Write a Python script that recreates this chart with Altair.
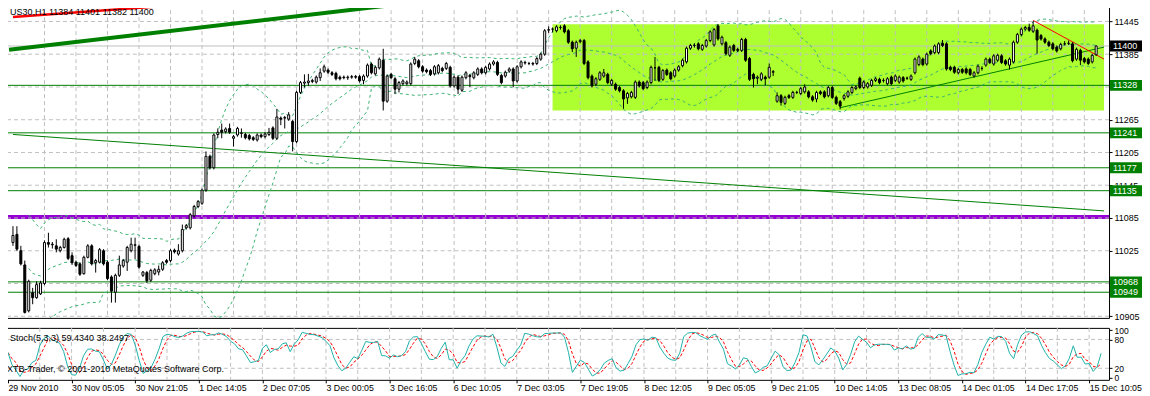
import json
import altair as alt
import pandas as pd

# ---------------- data (US30, H1) ----------------
OPEN = [
    11040, 11055, 11025, 10999, 10915, 10948, 10939, 10946, 10965, 11040,
    11037, 11034, 11025, 11031, 11047, 11016, 11004, 11001, 10983, 11013,
    11034, 11003, 11004, 11025, 11004, 10977, 10949, 10980, 10997, 11004,
    11025, 11035, 11033, 10980, 10985, 10971, 10983, 10986, 10991, 11007,
    11007, 11026, 11019, 11025, 11067, 11067, 11089, 11106, 11112, 11136,
    11198, 11177, 11238, 11246, 11243, 11249, 11231, 11237, 11240, 11238,
    11236, 11232, 11228, 11237, 11234, 11238, 11250, 11231, 11268, 11268,
    11266, 11262, 11225, 11315, 11332, 11333, 11335, 11334, 11342, 11354,
    11356, 11351, 11350, 11343, 11343, 11342, 11343, 11344, 11344, 11337,
    11345, 11367, 11349, 11360, 11374, 11299, 11348, 11340, 11321, 11331,
    11331, 11331, 11368, 11373, 11362, 11356, 11355, 11349, 11351, 11359,
    11359, 11361, 11327, 11343, 11319, 11342, 11346, 11342, 11348, 11358,
    11351, 11358, 11367, 11370, 11346, 11345, 11354, 11358, 11336, 11362,
    11369, 11368, 11368, 11368, 11376, 11385, 11429, 11431, 11428, 11434,
    11437, 11428, 11407, 11396, 11408, 11410, 11371, 11345, 11330, 11339,
    11345, 11348, 11330, 11330, 11324, 11318, 11305, 11307, 11306, 11334,
    11333, 11324, 11333, 11360, 11361, 11339, 11356, 11351, 11345, 11356,
    11364, 11371, 11396, 11401, 11404, 11394, 11400, 11410, 11402, 11437,
    11404, 11406, 11383, 11401, 11394, 11392, 11412, 11377, 11348, 11341,
    11339, 11343, 11343, 11352, 11299, 11309, 11295, 11309, 11306, 11315,
    11313, 11316, 11316, 11307, 11303, 11316, 11316, 11309, 11324, 11306,
    11298, 11304, 11308, 11315, 11322, 11341, 11324, 11325, 11328, 11337,
    11339, 11337, 11331, 11343, 11337, 11334, 11342, 11341, 11339, 11351,
    11366, 11376, 11367, 11391, 11388, 11388, 11405, 11404, 11361, 11361,
    11351, 11357, 11358, 11357, 11345, 11351, 11359, 11365, 11376, 11367,
    11374, 11382, 11373, 11365, 11371, 11407, 11421, 11431, 11434, 11427,
    11429, 11419, 11413, 11407, 11404, 11398, 11395, 11404, 11405, 11404,
    11376, 11392, 11377, 11376, 11371, 11384,
]
HIGH = [
    11070, 11070, 11034, 11007, 10972, 10957, 10969, 10970, 11044, 11058,
    11041, 11046, 11034, 11049, 11050, 11022, 11007, 11004, 11016, 11037,
    11037, 11010, 11030, 11028, 11007, 10980, 10983, 11016, 11010, 11034,
    11049, 11049, 11036, 10988, 10988, 10992, 10993, 10998, 11006, 11010,
    11028, 11029, 11037, 11073, 11074, 11094, 11109, 11118, 11139, 11207,
    11201, 11240, 11249, 11258, 11251, 11258, 11237, 11252, 11249, 11241,
    11239, 11235, 11240, 11240, 11242, 11250, 11253, 11285, 11271, 11272,
    11279, 11265, 11318, 11336, 11348, 11349, 11340, 11346, 11359, 11366,
    11359, 11354, 11353, 11346, 11346, 11346, 11347, 11347, 11347, 11348,
    11368, 11370, 11364, 11379, 11395, 11348, 11351, 11343, 11336, 11339,
    11337, 11370, 11380, 11376, 11365, 11359, 11358, 11365, 11367, 11362,
    11371, 11364, 11346, 11346, 11346, 11354, 11349, 11354, 11361, 11361,
    11364, 11370, 11374, 11373, 11349, 11355, 11361, 11361, 11365, 11374,
    11373, 11371, 11371, 11380, 11388, 11431, 11436, 11434, 11438, 11438,
    11440, 11431, 11410, 11410, 11413, 11413, 11374, 11348, 11343, 11354,
    11358, 11351, 11340, 11333, 11327, 11321, 11316, 11318, 11337, 11337,
    11336, 11337, 11364, 11380, 11364, 11358, 11359, 11354, 11359, 11365,
    11377, 11399, 11404, 11405, 11407, 11404, 11413, 11429, 11433, 11440,
    11419, 11409, 11401, 11404, 11397, 11415, 11415, 11380, 11351, 11346,
    11352, 11346, 11368, 11356, 11315, 11312, 11309, 11312, 11318, 11318,
    11325, 11330, 11319, 11310, 11318, 11319, 11319, 11327, 11327, 11309,
    11301, 11312, 11319, 11327, 11328, 11344, 11337, 11334, 11340, 11343,
    11342, 11341, 11343, 11346, 11348, 11346, 11345, 11344, 11348, 11379,
    11383, 11379, 11388, 11394, 11403, 11407, 11411, 11407, 11364, 11364,
    11360, 11360, 11361, 11360, 11354, 11366, 11363, 11379, 11379, 11385,
    11386, 11385, 11376, 11379, 11410, 11424, 11434, 11437, 11441, 11446,
    11432, 11422, 11416, 11410, 11407, 11401, 11406, 11409, 11410, 11407,
    11397, 11395, 11380, 11379, 11386, 11401,
]
LOW = [
    11034, 11025, 10998, 10910, 10912, 10927, 10937, 10944, 10962, 11031,
    11029, 11022, 11022, 11029, 11008, 10999, 10995, 10979, 10981, 11011,
    10998, 10985, 11002, 10998, 10971, 10930, 10930, 10977, 10994, 10988,
    11022, 11010, 10992, 10977, 10966, 10968, 10980, 10980, 10988, 11001,
    11004, 11020, 11016, 11022, 11064, 11064, 11086, 11103, 11109, 11133,
    11174, 11174, 11231, 11231, 11240, 11239, 11216, 11234, 11232, 11229,
    11227, 11226, 11225, 11231, 11231, 11235, 11228, 11228, 11255, 11249,
    11263, 11207, 11222, 11312, 11324, 11327, 11332, 11331, 11336, 11351,
    11349, 11345, 11337, 11337, 11339, 11338, 11340, 11340, 11333, 11330,
    11342, 11348, 11346, 11357, 11282, 11296, 11339, 11312, 11315, 11328,
    11328, 11328, 11365, 11359, 11351, 11350, 11345, 11346, 11348, 11352,
    11356, 11324, 11324, 11312, 11316, 11339, 11325, 11339, 11345, 11348,
    11348, 11355, 11364, 11345, 11330, 11342, 11351, 11325, 11333, 11359,
    11366, 11365, 11364, 11365, 11373, 11382, 11424, 11425, 11425, 11430,
    11423, 11404, 11389, 11380, 11405, 11365, 11339, 11324, 11327, 11336,
    11342, 11330, 11327, 11318, 11315, 11285, 11294, 11304, 11303, 11324,
    11319, 11321, 11330, 11336, 11334, 11336, 11345, 11337, 11342, 11353,
    11361, 11368, 11393, 11397, 11392, 11391, 11397, 11407, 11399, 11410,
    11401, 11383, 11380, 11389, 11389, 11389, 11371, 11336, 11324, 11330,
    11336, 11328, 11340, 11345, 11296, 11291, 11292, 11303, 11303, 11312,
    11310, 11313, 11304, 11298, 11297, 11310, 11304, 11306, 11303, 11292,
    11284, 11300, 11305, 11312, 11319, 11321, 11321, 11322, 11325, 11334,
    11330, 11333, 11328, 11328, 11334, 11331, 11333, 11338, 11336, 11348,
    11363, 11363, 11364, 11383, 11385, 11385, 11398, 11355, 11354, 11349,
    11348, 11349, 11348, 11345, 11342, 11348, 11355, 11362, 11367, 11364,
    11371, 11367, 11364, 11357, 11368, 11404, 11418, 11428, 11426, 11424,
    11386, 11410, 11404, 11398, 11392, 11388, 11392, 11401, 11402, 11370,
    11373, 11365, 11368, 11365, 11368, 11382,
]
CLOSE = [
    11053, 11028, 11001, 10912, 10969, 10939, 10963, 10966, 11040, 11037,
    11036, 11028, 11031, 11046, 11011, 11003, 10998, 10982, 11013, 11034,
    11001, 11007, 11027, 11001, 10974, 10951, 10980, 10999, 11007, 11031,
    11037, 11036, 10995, 10986, 10970, 10989, 10990, 10991, 11003, 11004,
    11025, 11023, 11025, 11064, 11071, 11091, 11106, 11115, 11136, 11198,
    11177, 11237, 11242, 11242, 11248, 11242, 11234, 11249, 11241, 11232,
    11230, 11229, 11237, 11234, 11239, 11242, 11231, 11270, 11266, 11269,
    11274, 11225, 11315, 11333, 11334, 11336, 11337, 11343, 11351, 11362,
    11352, 11348, 11340, 11340, 11342, 11343, 11344, 11343, 11336, 11345,
    11365, 11351, 11361, 11376, 11299, 11345, 11342, 11321, 11333, 11336,
    11334, 11367, 11376, 11362, 11354, 11353, 11348, 11362, 11364, 11355,
    11368, 11327, 11343, 11321, 11343, 11351, 11344, 11351, 11358, 11351,
    11361, 11367, 11371, 11348, 11333, 11352, 11358, 11336, 11362, 11371,
    11370, 11368, 11367, 11377, 11385, 11428, 11430, 11431, 11435, 11434,
    11426, 11407, 11395, 11407, 11410, 11368, 11342, 11327, 11340, 11351,
    11351, 11333, 11337, 11321, 11318, 11303, 11313, 11315, 11334, 11327,
    11322, 11334, 11361, 11360, 11337, 11355, 11348, 11340, 11356, 11362,
    11374, 11396, 11401, 11401, 11395, 11401, 11410, 11426, 11430, 11413,
    11416, 11386, 11398, 11392, 11392, 11412, 11374, 11339, 11340, 11343,
    11349, 11340, 11361, 11353, 11309, 11297, 11306, 11306, 11315, 11315,
    11322, 11325, 11307, 11301, 11315, 11313, 11307, 11324, 11306, 11295,
    11290, 11309, 11316, 11324, 11325, 11324, 11334, 11331, 11337, 11340,
    11333, 11337, 11340, 11331, 11345, 11343, 11336, 11341, 11345, 11376,
    11380, 11366, 11385, 11386, 11400, 11404, 11401, 11358, 11357, 11352,
    11357, 11352, 11351, 11348, 11351, 11363, 11359, 11376, 11370, 11382,
    11383, 11370, 11367, 11376, 11407, 11421, 11431, 11434, 11429, 11437,
    11411, 11413, 11407, 11401, 11395, 11391, 11403, 11404, 11405, 11373,
    11394, 11374, 11371, 11368, 11383, 11400,
]

X_TICK_BARS = [0, 16, 32, 48, 64, 80, 96, 112, 128, 144, 160, 176, 192, 208, 224, 240, 256, 272]
X_TICK_LABELS = [
    "29 Nov 2010", "30 Nov 05:05", "30 Nov 21:05", "1 Dec 14:05", "2 Dec 07:05",
    "3 Dec 00:05", "3 Dec 16:05", "6 Dec 10:05", "7 Dec 03:05", "7 Dec 19:05",
    "8 Dec 12:05", "9 Dec 05:05", "9 Dec 21:05", "10 Dec 14:05", "13 Dec 08:05",
    "14 Dec 01:05", "14 Dec 17:05", "15 Dec 10:05",
]
GRID_BARS = list(range(8, 276, 8))
PRICE_TICKS = [11445, 11385, 11265, 11205, 11145, 11085, 11025, 10905]
PRICE_GRID = [11445, 11385, 11325, 11265, 11205, 11145, 11085, 11025, 10965, 10905]

LEVELS = [11328, 11241, 11177, 11135, 10968, 10949]
PURPLE_LEVEL = [11087]
BID = [11400]
ZONE_BARS = [137, 277]
ZONE_PRICES = [11440, 11282]

TREND_THICK_GREEN = {"x": [-1, 101], "p": [11393, 11479]}
TREND_THICK_RED = {"x": [0, 49], "p": [11453, 11479]}
TREND_DOWN_GREEN = {"x": [0, 277], "p": [11238, 11098]}
TREND_UP_GREEN = {"x": [210, 277], "p": [11287, 11398]}
TREND_DOWN_RED = {"x": [259, 277], "p": [11447, 11376]}

STOCH_GRID = [20, 80]
STOCH_TICKS = [1, 20, 80, 99]

HEADER = "US30,H1  11384 11401 11382 11400"
STOCH_TITLE = "Stoch(5,3,3) 59.4340 38.2497"
COPYRIGHT = "XTB-Trader, © 2001-2010 MetaQuotes Software Corp."

# ---------------- derived tables ----------------
n = len(CLOSE)
idx = list(range(n))
df = pd.DataFrame({"i": idx, "O": OPEN, "H": HIGH, "L": LOW, "C": CLOSE})

c = df["C"]
mid = c.rolling(20, min_periods=5).mean()
sd = c.rolling(20, min_periods=5).std(ddof=0)
bb = pd.concat([
    pd.DataFrame({"i": idx, "v": mid, "b": "mid"}),
    pd.DataFrame({"i": idx, "v": mid + 2 * sd, "b": "up"}),
    pd.DataFrame({"i": idx, "v": mid - 2 * sd, "b": "lo"}),
]).dropna()

ll = df["L"].rolling(5, min_periods=1).min()
hh = df["H"].rolling(5, min_periods=1).max()
num = (df["C"] - ll).rolling(3, min_periods=1).sum()
den = (hh - ll).rolling(3, min_periods=1).sum()
K = 100 * num / den
D = K.rolling(3, min_periods=1).mean()
st = pd.DataFrame({"i": idx, "K": K, "D": D})

# ---------------- styling ----------------
W, H1, H2 = 1104, 315, 52
FONT = "Liberation Sans"
GRID = "#C0C0C0"
GREEN = "#008000"

xs = alt.Scale(domain=[-0.5, 277], nice=False, zero=False)
ys = alt.Scale(domain=[10902, 11478.5], nice=False, zero=False)
ys2 = alt.Scale(domain=[-4, 104], nice=False, zero=False)

AXIS_COMMON = dict(title=None, grid=False, domain=False, tickSize=3, tickColor="black",
                   labelFont=FONT, labelColor="black", labelOverlap=False, labelFlush=False)
PRICE_AXIS = alt.Axis(orient="right", values=PRICE_TICKS, format="d", labelPadding=2,
                      labelFontSize=9, **AXIS_COMMON)
STOCH_AXIS = alt.Axis(orient="right", values=STOCH_TICKS, format="d", labelPadding=2,
                      labelFontSize=8.5,
                      labelExpr="datum.value == 99 ? '100' : datum.value == 1 ? '0' : datum.label",
                      **AXIS_COMMON)
TIME_AXIS = alt.Axis(orient="bottom", values=X_TICK_BARS,
                     labelExpr=json.dumps(X_TICK_LABELS) + "[round(datum.value/16)]",
                     labelAlign="left", labelBaseline="top", labelPadding=1, labelFontSize=8.8,
                     **AXIS_COMMON)


def X(f):
    return alt.X(f, type="quantitative", scale=xs, axis=None)


def XS(f):
    return alt.X(f, type="quantitative", scale=xs, axis=TIME_AXIS)


def Y(f):
    return alt.Y(f, type="quantitative", scale=ys, axis=PRICE_AXIS)


def YS(f):
    return alt.Y(f, type="quantitative", scale=ys2, axis=STOCH_AXIS)


# ---------------- main panel ----------------
zone = alt.Chart(pd.DataFrame({"x1": [ZONE_BARS[0]], "x2": [ZONE_BARS[1]],
                               "p1": [ZONE_PRICES[0]], "p2": [ZONE_PRICES[1]]})).mark_rect(
    color="#ADFF2F", clip=True).encode(x=X("x1"), x2="x2", y=Y("p1"), y2="p2")

purple = alt.Chart(pd.DataFrame({"p": PURPLE_LEVEL})).mark_rule(
    color="#9400D3", strokeWidth=4).encode(y=Y("p"))

grid_v = alt.Chart(pd.DataFrame({"b": GRID_BARS})).mark_rule(
    color=GRID, strokeDash=[4, 3], strokeWidth=1).encode(x=X("b"))

grid_h = alt.Chart(pd.DataFrame({"p": PRICE_GRID})).mark_rule(
    color=GRID, strokeDash=[4, 3], strokeWidth=1).encode(y=Y("p"))

bid = alt.Chart(pd.DataFrame({"p": BID})).mark_rule(color=GRID, strokeWidth=1).encode(y=Y("p"))

levels = alt.Chart(pd.DataFrame({"p": LEVELS})).mark_rule(
    color=GREEN, strokeWidth=1).encode(y=Y("p"))


def trend(d, color, width):
    return alt.Chart(pd.DataFrame(d)).mark_line(
        color=color, strokeWidth=width, clip=True).encode(x=X("x"), y=Y("p"))


trends = [
    trend(TREND_THICK_GREEN, GREEN, 4),
    trend(TREND_THICK_RED, "#FF0000", 2.5),
    trend(TREND_DOWN_GREEN, GREEN, 1),
    trend(TREND_UP_GREEN, GREEN, 1),
    trend(TREND_DOWN_RED, "#FF0000", 1),
]

bands = alt.Chart(bb).mark_line(color="#3CB371", strokeDash=[3, 3], strokeWidth=1, clip=True).encode(
    x=X("i"), y=Y("v"), detail="b:N")

wicks = alt.Chart(df).mark_rule(color="black", strokeWidth=1).encode(
    x=X("i"), y=Y("L"), y2="H")

bodies = alt.Chart(df).mark_bar(size=2, stroke="black", strokeWidth=1).encode(
    x=X("i"), y=Y("O"), y2="C",
    fill=alt.condition("datum.C >= datum.O", alt.value("white"), alt.value("black")))

box_df = pd.DataFrame({
    "p": LEVELS + BID,
    "col": [GREEN] * len(LEVELS) + ["black"],
    "lab": [str(v) for v in LEVELS + BID],
})
boxes = alt.Chart(box_df).mark_point(
    shape="M-1,-0.33H1V0.33H-1Z", size=33 * 33, filled=True, opacity=1, strokeWidth=0).encode(
    x=alt.value(W + 17.5), y=Y("p"), color=alt.Color("col:N", scale=None))
box_text = alt.Chart(box_df).mark_text(
    align="left", baseline="middle", font=FONT, fontSize=9, color="white").encode(
    x=alt.value(W + 4), y=Y("p"), text="lab:N")

header = alt.Chart(pd.DataFrame({"t": [HEADER]})).mark_text(
    align="left", baseline="middle", font=FONT, fontSize=9, color="black").encode(
    x=alt.value(4), y=alt.value(9), text="t:N")

main = alt.layer(zone, purple, grid_v, grid_h, bid, levels, *trends, bands, wicks, bodies,
                 boxes, box_text, header).properties(width=W, height=H1)

# ---------------- stochastic panel ----------------
s_grid_v = alt.Chart(pd.DataFrame({"b": GRID_BARS})).mark_rule(
    color=GRID, strokeDash=[4, 3], strokeWidth=1).encode(x=XS("b"))
s_grid_h = alt.Chart(pd.DataFrame({"p": STOCH_GRID})).mark_rule(
    color=GRID, strokeDash=[4, 3], strokeWidth=1).encode(y=YS("p"))
k_line = alt.Chart(st).mark_line(color="#20B2AA", strokeWidth=1, clip=True).encode(
    x=XS("i"), y=YS("K"))
d_line = alt.Chart(st).mark_line(color="#FF0000", strokeWidth=1, strokeDash=[3, 2], clip=True).encode(
    x=XS("i"), y=YS("D"))
s_title = alt.Chart(pd.DataFrame({"t": [STOCH_TITLE]})).mark_text(
    align="left", baseline="middle", font=FONT, fontSize=9, color="black").encode(
    x=alt.value(4), y=alt.value(10), text="t:N")
s_copy = alt.Chart(pd.DataFrame({"t": [COPYRIGHT]})).mark_text(
    align="left", baseline="middle", font=FONT, fontSize=9, color="black").encode(
    x=alt.value(1), y=alt.value(41), text="t:N")

stoch = alt.layer(s_grid_v, s_grid_h, d_line, k_line, s_title, s_copy).properties(width=W, height=H2)

chart = alt.vconcat(main, stoch, spacing=3).properties(
    padding={"left": -5, "top": -6, "right": -2, "bottom": -1},
    background="white",
).configure_view(stroke="black", strokeWidth=1)

chart.save("out.html", embed_options={"renderer": "svg", "actions": False})
